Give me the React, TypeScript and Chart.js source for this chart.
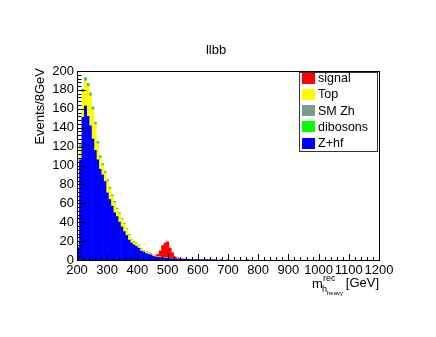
import React, { useEffect, useRef } from "react";
import { Chart, registerables } from "chart.js";

Chart.register(...registerables);

// ---- data ----
const binStart = 200;
const binWidth = 8;
const xTickValues = [200, 300, 400, 500, 600, 700, 800, 900, 1000, 1100, 1200];
const yTickValues = [0, 20, 40, 60, 80, 100, 120, 140, 160, 180, 200];
const seriesNames = ["Z+hf", "Top", "SM Zh", "dibosons", "signal"];
const seriesColors = ["#0000ff", "#ffff00", "#7c9c8c", "#00ff00", "#ff0000"];
const legendOrder = ["signal", "Top", "SM Zh", "dibosons", "Z+hf"];

const zhf = [
  13, 106, 151, 163, 152, 142, 128, 116, 106, 96,
  90, 83, 71, 64, 57, 50, 46, 40, 35, 30,
  26, 21, 18, 16, 14.5, 12.5, 9.5, 8.5, 7, 6,
  5.5, 4, 3.3, 2.8, 2.6, 2.3, 2, 1.8, 1.6, 1.4,
  1.2, 1, 1, 0.8, 0.8, 0.7, 0.6, 0.6, 0.5, 0.5,
  0.4, 0.4, 0.3, 0.4, 0.3, 0.2, 0.3, 0.2, 0, 0.2,
  0, 0, 0.3, 0, 0, 0, 0, 0, 0, 0,
  0.3,
];
const topQuark = [
  4.2, 13.5, 26.5, 26.5, 31.5, 31.6, 30.9, 27.2, 17, 12,
  10, 9, 12.3, 11.4, 10.6, 10.6, 7.8, 8.9, 8.1, 8.1,
  6.3, 5.3, 3.4, 3, 3, 3.1, 2.1, 1.2, 1.7, 1.3,
  0.9, 0.9, 0.7, 0.7, 0.6, 0.5, 0.5, 0.4, 0.4, 0.3,
  0.3, 0.2, 0.2, 0.1, 0.1, 0.1,
];
const smZh = [
  0.5, 1.5, 2, 2, 2, 2, 1.8, 1.6, 1.5, 1.3,
  1.2, 1, 1, 0.9, 0.8, 0.8, 0.7, 0.6, 0.5, 0.5,
  0.4, 0.4, 0.3, 0.3, 0.3, 0.2, 0.2, 0.2, 0.2, 0.1,
  0.1,
];
const dibosons = [
  0.3, 1, 1.5, 1.5, 1.5, 1.4, 1.3, 1.2, 1.1, 1,
  0.9, 0.8, 0.7, 0.7, 0.6, 0.6, 0.5, 0.5, 0.4, 0.4,
  0.3, 0.3, 0.3, 0.2, 0.2, 0.2, 0.2, 0.1, 0.1, 0.1,
];
const signal = [
  0, 0, 0, 0, 0, 0, 0, 0, 0, 0,
  0, 0, 0, 0, 0, 0, 0, 0, 0, 0,
  0, 0, 0, 0, 0, 0, 0, 0, 0.2, 0.2,
  0.3, 0.3, 0.5, 2.5, 6.5, 12.5, 15.5, 17, 10.5, 6,
  2, 1, 0.5, 0.3, 0.2, 0.1,
];
const seriesValues = [zhf, topQuark, smZh, dibosons, signal];

const FONT = "'Liberation Sans', Arial, Helvetica, sans-serif";

function toPoints(values: number[]) {
  const pts: { x: number; y: number }[] = [];
  values.forEach((v, i) => {
    if (v > 0) pts.push({ x: binStart + binWidth * (i + 0.5), y: v });
  });
  return pts;
}

const rootPlugin = {
  id: "rootStyle",
  afterDatasetsDraw(chart: any) {
    const ctx = chart.ctx;
    const { left, right, top, bottom } = chart.chartArea;
    const xs = chart.scales.x;
    const ys = chart.scales.y;
    ctx.save();
    ctx.strokeStyle = "#000";
    ctx.lineWidth = 1;
    ctx.strokeRect(Math.round(left) + 0.5, Math.round(top) + 0.5, Math.round(right - left), Math.round(bottom - top));
    ctx.beginPath();
    for (let v = 200; v <= 1200; v += 20) {
      const px = Math.round(xs.getPixelForValue(v)) + 0.5;
      const len = v % 100 === 0 ? 6 : 3;
      ctx.moveTo(px, bottom);
      ctx.lineTo(px, bottom - len);
    }
    for (let v = 0; v <= 200; v += 4) {
      const py = Math.round(ys.getPixelForValue(v)) + 0.5;
      const len = v % 20 === 0 ? 9 : 4.5;
      ctx.moveTo(left, py);
      ctx.lineTo(left + len, py);
    }
    ctx.stroke();
    ctx.restore();
  },
  afterDraw(chart: any) {
    const ctx = chart.ctx;
    ctx.save();
    ctx.fillStyle = "#000";
    ctx.font = `13px ${FONT}`;
    ctx.textAlign = "center";
    ctx.textBaseline = "middle";
    ctx.fillText("llbb", 216, 50);
    ctx.save();
    ctx.translate(40, 68);
    ctx.rotate(-Math.PI / 2);
    ctx.textAlign = "right";
    ctx.textBaseline = "middle";
    ctx.fillText("Events/8GeV", 0, 0);
    ctx.restore();
    ctx.textBaseline = "alphabetic";
    ctx.textAlign = "left";
    ctx.font = `13px ${FONT}`;
    ctx.fillText("m", 312, 288);
    ctx.font = `9px ${FONT}`;
    ctx.fillText("rec", 323, 281);
    ctx.fillText("h", 322, 292);
    ctx.font = `6px ${FONT}`;
    ctx.fillText("heavy", 327, 295);
    ctx.font = `13px ${FONT}`;
    ctx.textAlign = "right";
    ctx.fillText("[GeV]", 379, 287);
    const lx = 299, ly = 72, lw = 78, lh = 79;
    ctx.fillStyle = "#fff";
    ctx.fillRect(lx, ly, lw, lh);
    ctx.strokeStyle = "#333";
    ctx.lineWidth = 1;
    ctx.strokeRect(lx + 0.5, ly + 0.5, lw, lh);
    ctx.font = `12.5px ${FONT}`;
    ctx.textAlign = "left";
    ctx.textBaseline = "middle";
    legendOrder.forEach((name, k) => {
      const idx = seriesNames.indexOf(name);
      const cy = 78 + k * 16.3;
      ctx.fillStyle = seriesColors[idx];
      ctx.fillRect(302, Math.round(cy - 5.5), 13, 11);
      ctx.fillStyle = "#000";
      ctx.fillText(name, 318, cy + 0.5);
    });
    ctx.restore();
  },
};

export default function App() {
  const canvasRef = useRef<HTMLCanvasElement | null>(null);

  useEffect(() => {
    if (!canvasRef.current) return;
    const datasets = seriesNames.map((name, i) => ({
      label: name,
      data: toPoints(seriesValues[i]),
      backgroundColor: seriesColors[i],
      borderWidth: 0,
      barPercentage: 1,
      categoryPercentage: 1,
    }));
    const chart = new Chart(canvasRef.current, {
      type: "bar",
      data: { datasets } as any,
      options: {
        animation: false,
        responsive: true,
        maintainAspectRatio: false,
        devicePixelRatio: 1,
        layout: { padding: { left: 0, top: 71, right: 57, bottom: 0 } },
        plugins: {
          legend: { display: false },
          title: { display: false },
          tooltip: { enabled: false },
        },
        scales: {
          x: {
            type: "linear",
            stacked: true,
            min: 200,
            max: 1200,
            offset: false,
            grid: { display: false, drawTicks: false },
            border: { display: false },
            afterFit: (s: any) => { s.height = 77; },
            afterBuildTicks: (s: any) => { s.ticks = xTickValues.map((v) => ({ value: v })); },
            ticks: {
              autoSkip: false,
              maxRotation: 0,
              padding: 3,
              color: "#000",
              font: { family: FONT, size: 13 },
              callback: (v: any) => String(v),
            },
          },
          y: {
            stacked: true,
            min: 0,
            max: 200,
            grid: { display: false, drawTicks: false },
            border: { display: false },
            afterFit: (s: any) => { s.width = 77; },
            afterBuildTicks: (s: any) => { s.ticks = yTickValues.map((v) => ({ value: v })); },
            ticks: {
              padding: 3,
              color: "#000",
              font: { family: FONT, size: 13 },
              callback: (v: any) => String(v),
            },
          },
        },
      } as any,
      plugins: [rootPlugin],
    });
    return () => chart.destroy();
  }, []);

  return (
    <div style={{ position: "fixed", left: 0, top: 0, width: 436, height: 337, background: "#fff" }}>
      <canvas ref={canvasRef} />
    </div>
  );
}
